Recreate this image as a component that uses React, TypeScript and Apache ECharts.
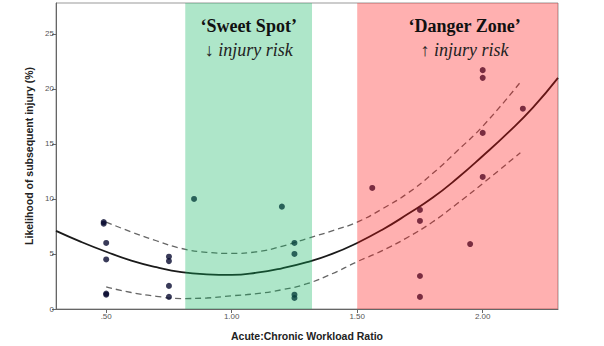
import React, { useEffect, useRef } from "react";
import * as echarts from "echarts";

// Observed data points (Acute:Chronic Workload Ratio, likelihood %)
const pointsX = [0.49, 0.49, 0.5, 0.5, 0.5, 0.5, 0.75, 0.75, 0.75, 0.75, 0.85, 1.2, 1.25, 1.25, 1.25, 1.25, 1.56, 1.75, 1.75, 1.75, 1.75, 1.95, 2.0, 2.0, 2.0, 2.0, 2.16];
const pointsY = [7.9, 7.75, 6.0, 4.5, 1.4, 1.3, 4.75, 4.35, 2.1, 1.1, 10.0, 9.3, 6.0, 5.0, 1.3, 1.0, 11.0, 9.0, 8.0, 3.0, 1.1, 5.9, 21.7, 21.0, 16.0, 12.0, 18.2];

// Fitted curve
const fitX = [0.3, 0.4, 0.5, 0.6, 0.7, 0.8, 0.9, 1.0, 1.1, 1.2, 1.3, 1.4, 1.5, 1.6, 1.7, 1.8, 1.9, 2.0, 2.1, 2.2, 2.3];
const fitY = [7.1, 6.1, 5.2, 4.4, 3.8, 3.35, 3.15, 3.1, 3.3, 3.7, 4.25, 5.0, 6.0, 7.2, 8.6, 10.1, 11.9, 13.9, 16.0, 18.3, 21.0];

// Confidence bands
const ciX = [0.5, 0.6, 0.7, 0.8, 0.9, 1.0, 1.1, 1.2, 1.3, 1.4, 1.5, 1.6, 1.7, 1.8, 1.9, 2.0, 2.15];
const ciUpper = [7.9, 7.0, 6.2, 5.5, 5.15, 5.05, 5.2, 5.7, 6.4, 7.1, 7.9, 9.1, 10.5, 12.3, 14.4, 16.6, 20.6];
const ciLower = [2.0, 1.5, 1.15, 0.95, 1.0, 1.2, 1.4, 1.75, 2.3, 3.2, 4.3, 5.3, 6.5, 7.9, 9.6, 11.4, 14.2];

// Zones
const sweetSpot = [0.815, 1.32];
const dangerZone = [1.5, 2.3];

// Axis ticks
const xTickValues = [0.5, 1.0, 1.5, 2.0];
const xTickLabels = [".50", "1.00", "1.50", "2.00"];
const yTickValues = [0, 5, 10, 15, 20, 25];

const zip = (xs: number[], ys: number[]) => xs.map((x, i) => [x, ys[i]]);

export default function App() {
  const ref = useRef<HTMLDivElement>(null);
  useEffect(() => {
    if (!ref.current) return;
    const chart = echarts.init(ref.current, null, { renderer: "svg" });
    const serif = "'Liberation Serif', 'DejaVu Serif', serif";
    const sans = "'Liberation Sans', Arial, sans-serif";
    const rich = {
      b: { fontFamily: serif, fontWeight: "bold", fontSize: 18, color: "#111", lineHeight: 24 },
      i: { fontFamily: serif, fontStyle: "italic", fontSize: 18, color: "#222", lineHeight: 24 },
    };
    chart.setOption({
      animation: false,
      grid: {
        left: 56,
        right: 46,
        top: 3,
        bottom: 34,
        show: true,
        borderColor: "#999",
        borderWidth: 1,
      },
      xAxis: {
        type: "value",
        min: 0.3,
        max: 2.3,
        name: "Acute:Chronic Workload Ratio",
        nameLocation: "middle",
        nameGap: 21,
        nameTextStyle: { fontFamily: sans, fontWeight: "bold", fontSize: 10.5, color: "#222" },
        axisLine: { lineStyle: { color: "#666" } },
        axisTick: { customValues: xTickValues, length: 4, lineStyle: { color: "#666" } },
        axisLabel: {
          customValues: xTickValues,
          margin: 3,
          fontSize: 8,
          color: "#555",
          fontFamily: sans,
          formatter: (v: number) => {
            const i = xTickValues.findIndex((t) => Math.abs(t - v) < 1e-6);
            return i >= 0 ? xTickLabels[i] : "";
          },
        },
        splitLine: { show: false },
      },
      yAxis: {
        type: "value",
        min: 0,
        max: 27.8,
        name: "Likelihood of subsequent injury (%)",
        nameLocation: "middle",
        nameGap: 20,
        nameTextStyle: { fontFamily: sans, fontWeight: "bold", fontSize: 10.5, color: "#222" },
        axisLine: { show: true, lineStyle: { color: "#666" } },
        axisTick: { show: true, customValues: yTickValues, length: 4, lineStyle: { color: "#666" } },
        axisLabel: { customValues: yTickValues, margin: 2, fontSize: 8, color: "#555", fontFamily: sans },
        splitLine: { show: false },
      },
      series: [
        {
          type: "line",
          data: zip(fitX, fitY),
          smooth: true,
          symbol: "none",
          lineStyle: { color: "#1a1a1a", width: 1.8 },
          z: 3,
        },
        {
          type: "line",
          data: zip(ciX, ciUpper),
          smooth: true,
          symbol: "none",
          lineStyle: { color: "#666", width: 1.3, type: [6, 4] },
          z: 3,
        },
        {
          type: "line",
          data: zip(ciX, ciLower),
          smooth: true,
          symbol: "none",
          lineStyle: { color: "#666", width: 1.3, type: [6, 4] },
          z: 3,
        },
        {
          type: "scatter",
          data: zip(pointsX, pointsY),
          symbolSize: 6,
          itemStyle: { color: "#070a30" },
          z: 4,
          markArea: {
            z: 10,
            silent: true,
            data: [
              [
                {
                  xAxis: sweetSpot[0],
                  itemStyle: { color: "rgba(8,180,90,0.33)" },
                  label: {
                    show: true,
                    position: "insideTop",
                    distance: 11,
                    formatter: "{b|‘Sweet Spot’}\n{i|↓ injury risk}",
                    rich,
                  },
                },
                { xAxis: sweetSpot[1] },
              ],
              [
                {
                  xAxis: dangerZone[0],
                  itemStyle: { color: "rgba(255,16,16,0.33)" },
                  label: {
                    show: true,
                    position: "insideTop",
                    distance: 11,
                    offset: [7, 0],
                    formatter: "{b|‘Danger Zone’}\n{i|↑ injury risk}",
                    rich,
                  },
                },
                { xAxis: dangerZone[1] },
              ],
            ],
          },
        },
      ],
    });
    return () => chart.dispose();
  }, []);
  return (
    <div
      ref={ref}
      style={{ position: "fixed", left: 0, top: 0, width: 604, height: 346, background: "#fff" }}
    />
  );
}
